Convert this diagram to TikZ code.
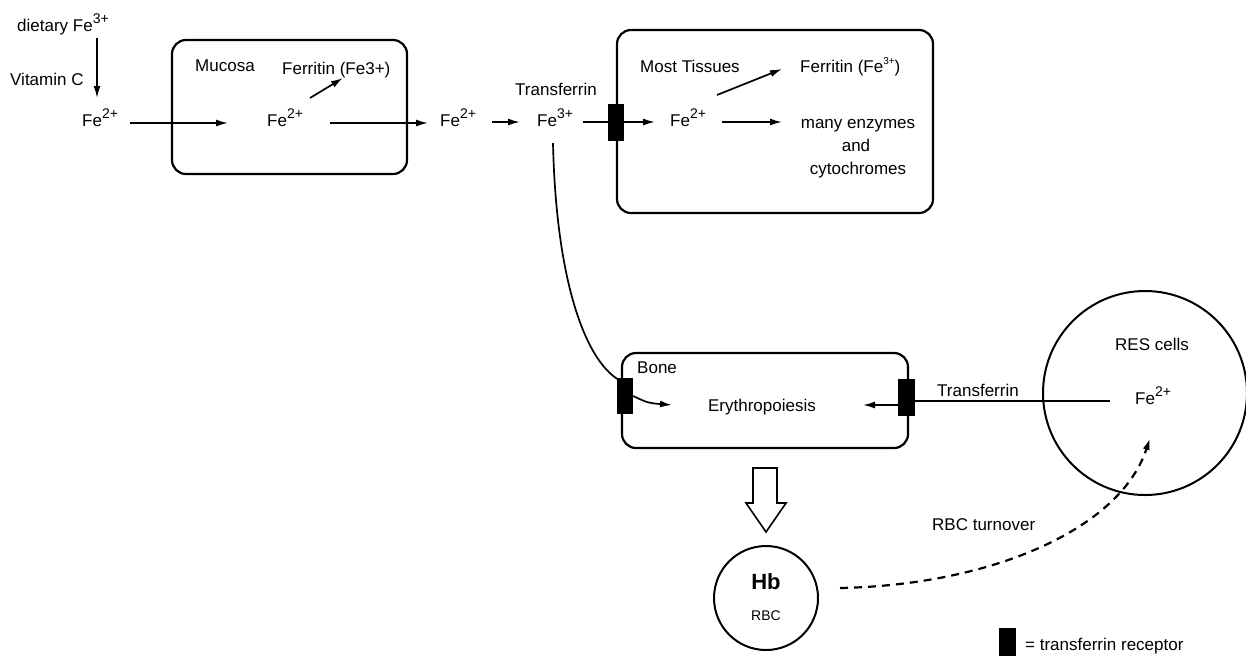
\documentclass[tikz,border=0pt]{standalone}
\usepackage{fontspec}
\setmainfont{Liberation Sans}
\usetikzlibrary{arrows.meta}
\newcommand\supx[1]{\raisebox{0.42em}{\fontsize{14}{14}\selectfont #1}}
\begin{document}
\begin{tikzpicture}[x=1pt,y=-1pt,
  txt/.style={font=\fontsize{17}{20}\selectfont, inner sep=0pt, anchor=base west},
  ctxt/.style={font=\fontsize{17}{20}\selectfont, inner sep=0pt, anchor=base},
  arr/.style={line width=1.7pt, -{Latex[length=12pt,width=7pt]}},
  plain/.style={line width=1.7pt},
  box/.style={draw, line width=2.2pt, rounded corners=14pt, inner sep=0pt},
  rec/.style={fill=black, draw=none, inner sep=0pt},
  ring/.style={draw, circle, line width=2pt, inner sep=0pt}]
\useasboundingbox (0,0) rectangle (1246,657);

% boxes
\node[box, minimum width=235, minimum height=134] (mucosa) at (289.5,107) {};
\node[box, minimum width=316, minimum height=183] (tissues) at (775,121.5) {};
\node[box, minimum width=286, minimum height=95] (bone) at (765,400.5) {};
\node[ring, minimum size=104] (hb) at (766,598) {};
\node[ring, minimum size=204] (res) at (1145,393) {};

% receptors
\node[rec, minimum width=16, minimum height=37] (rtop) at (616,122) {};
\node[rec, minimum width=16, minimum height=36] (rbl) at (625,396) {};
\node[rec, minimum width=17, minimum height=37] (rbr) at (906.5,397) {};
\node[rec, minimum width=17, minimum height=28] (rleg) at (1007.5,642) {};

% texts
\node[txt] (diet) at (17,31) {dietary Fe\supx{3+}};
\node[txt] (vitc) at (10,85) {Vitamin C};
\node[txt] (fe1) at (82,126) {Fe\supx{2+}};
\node[txt] (muc) at (195,71) {Mucosa};
\node[txt] (fer1) at (282,74) {Ferritin (Fe3+)};
\node[txt] (fe2) at (267,126) {Fe\supx{2+}};
\node[txt] (fe3) at (440,126) {Fe\supx{2+}};
\node[txt] (trf1) at (515,95) {Transferrin};
\node[txt] (fe4) at (537,126) {Fe\supx{3+}};
\node[txt] (most) at (640,72) {Most Tissues};
\node[txt] (fer2) at (800,72) {Ferritin (Fe\raisebox{0.45em}{\fontsize{10}{10}\selectfont 3+})};
\node[txt] (fe5) at (670,126) {Fe\supx{2+}};
\node[ctxt] (enz1) at (858,128) {many enzymes};
\node[ctxt] (enz2) at (856,151) {and};
\node[ctxt] (enz3) at (858,174) {cytochromes};
\node[txt] (bonel) at (637,373) {Bone};
\node[ctxt] (ery) at (762,411) {Erythropoiesis};
\node[txt] (trf2) at (937,396) {Transferrin};
\node[ctxt] (resl) at (1152,350) {RES cells};
\node[txt] (fe6) at (1135,404) {Fe\supx{2+}};
\node[txt] (turn) at (932,530) {RBC turnover};
\node[inner sep=0pt, font=\bfseries\fontsize{22}{24}\selectfont] (hbl) at (766,582) {Hb};
\node[inner sep=0pt, font=\fontsize{14}{16}\selectfont] (rbcl) at (766,616) {RBC};
\node[txt] (leg) at (1025,650) {= transferrin receptor};

% coordinates for connector ends
\coordinate (a1) at (97,38);
\coordinate (a2) at (97,98);
\coordinate (b1) at (130,123);
\coordinate (b2) at (228,123);
\coordinate (c1) at (310,98);
\coordinate (c2) at (343,78);
\coordinate (d1) at (330,123);
\coordinate (d2) at (428,123);
\coordinate (e1) at (492,122);
\coordinate (e2) at (520,122);
\coordinate (f1) at (583,122);
\coordinate (g2) at (655,122);
\coordinate (h1) at (717,95);
\coordinate (h2) at (782,69);
\coordinate (i1) at (722,122);
\coordinate (i2) at (782,122);
\coordinate (j1) at (553,143);
\coordinate (j2) at (619,380);
\coordinate (k2) at (672,405);
\coordinate (l1) at (1110,401);
\coordinate (m2) at (863,405);
\coordinate (n1) at (840,588);
\coordinate (n2) at (1150,438);

% connectors
\draw[arr] (a1) -- (a2);
\draw[arr] (b1) -- (b2);
\draw[arr] (c1) -- (c2);
\draw[arr] (d1) -- (d2);
\draw[arr] (e1) -- (e2);
\draw[plain] (f1) -- (rtop.west);
\draw[arr] (rtop.east) -- (g2);
\draw[arr] (h1) -- (h2);
\draw[arr] (i1) -- (i2);
\draw[plain] (j1) .. controls (556,280) and (585,360) .. (j2);
\draw[arr] (rbl.east) .. controls (648,403) .. (k2);
\draw[plain] (l1) -- (rbr.east |- l1);
\draw[arr] (rbr.west |- m2) -- (m2);
\draw[line width=2.2pt, dash pattern=on 8pt off 6pt, -{Latex[length=12pt,width=7pt]}] (n1) .. controls (990,585) and (1120,530) .. (n2);

% open block arrow from bone to Hb
\draw[line width=1.6pt, line join=miter] (753,468) -- (777,468) -- (777,503) -- (786,503) -- (766,532) -- (746,503) -- (753,503) -- cycle;
\end{tikzpicture}
\end{document}
